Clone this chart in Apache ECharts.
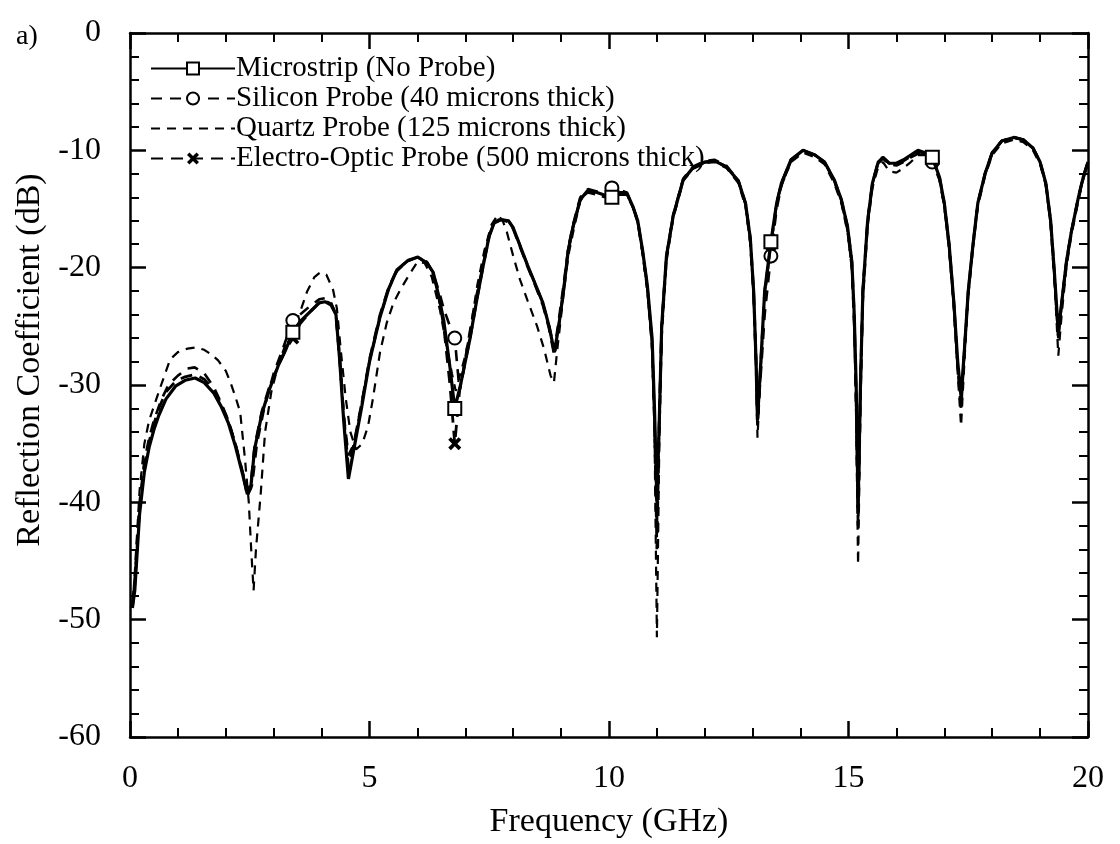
<!DOCTYPE html>
<html>
<head>
<meta charset="utf-8">
<script src="https://cdn.jsdelivr.net/npm/echarts@6/dist/echarts.min.js"></script>
<style>html,body{margin:0;padding:0;background:#fff;}#c{width:1120px;height:844px;}</style>
</head>
<body>
<div id="c"></div>
<script>
// ---- data (frequency GHz, reflection coefficient dB) ----
const seriesNames = ['Microstrip (No Probe)', 'Silicon Probe (40 microns thick)', 'Quartz Probe (125 microns thick)', 'Electro-Optic Probe (500 microns thick)'];
const markerFreqs = [3.40, 6.78, 10.06, 13.38, 16.75];
const xTicks = [0, 5, 10, 15, 20];
const yTicks = [-60, -50, -40, -30, -20, -10, 0];

const microstrip = [
[0.05,-49],[0.1,-47.5],[0.2,-41],[0.3,-37.4],[0.4,-35.3],[0.5,-33.8],[0.6,-32.6],[0.75,-31.2],[0.95,-30.1],[1.15,-29.6],
[1.36,-29.4],[1.55,-29.8],[1.75,-30.7],[1.9,-31.8],[2.05,-33.2],[2.2,-35.2],[2.35,-37.6],[2.45,-39.3],[2.52,-38.8],[2.6,-35.5],
[2.75,-32.5],[2.9,-30.5],[3.1,-28.3],[3.25,-27],[3.4,-25.5],[3.55,-24.6],[3.75,-23.8],[3.95,-23],[4.07,-22.9],[4.2,-23.2],
[4.3,-24],[4.38,-28],[4.46,-33],[4.56,-38],[4.65,-36],[4.84,-31.8],[5.0,-28],[5.22,-24.2],[5.4,-21.8],[5.57,-20.2],
[5.8,-19.4],[6.01,-19.1],[6.2,-19.6],[6.33,-20.4],[6.45,-22.5],[6.55,-24.5],[6.68,-28.5],[6.78,-32],[6.9,-30],[7.0,-28],
[7.1,-26],[7.25,-22.5],[7.37,-19.9],[7.5,-17.3],[7.6,-16.2],[7.75,-15.9],[7.9,-16],[8.0,-16.6],[8.15,-18.2],[8.3,-19.8],
[8.45,-21.3],[8.62,-23],[8.75,-25],[8.86,-27.2],[8.95,-25],[9.05,-22],[9.15,-18.5],[9.25,-16.5],[9.4,-14.2],[9.56,-13.4],
[9.75,-13.6],[9.9,-13.8],[10.06,-14],[10.2,-13.6],[10.37,-13.6],[10.5,-14.8],[10.6,-16],[10.7,-18.5],[10.8,-21.5],[10.9,-26],
[10.95,-32],[11.0,-40],[11.05,-33],[11.1,-25],[11.2,-19],[11.34,-15.6],[11.55,-12.5],[11.75,-11.5],[12.0,-11],[12.2,-10.9],
[12.45,-11.4],[12.7,-12.6],[12.85,-14.5],[12.95,-17.5],[13.02,-22],[13.07,-28],[13.1,-33],[13.17,-28],[13.25,-22],[13.38,-17.8],
[13.5,-14.5],[13.6,-12.8],[13.8,-10.8],[14.05,-10],[14.3,-10.4],[14.5,-11],[14.7,-12.5],[14.85,-14.2],[14.98,-16.5],[15.07,-19.5],
[15.12,-24],[15.16,-30],[15.2,-40.5],[15.25,-30],[15.3,-22],[15.4,-16],[15.5,-12.8],[15.62,-11],[15.72,-10.6],[15.85,-11.1],
[16.0,-11.1],[16.15,-10.8],[16.3,-10.4],[16.45,-10],[16.6,-10.2],[16.75,-10.6],[16.9,-12.3],[17.0,-14.5],[17.1,-18],[17.2,-23],
[17.28,-28],[17.35,-31],[17.42,-27],[17.5,-22],[17.6,-18],[17.7,-14.5],[17.85,-12],[18.0,-10.2],[18.2,-9.2],[18.45,-8.9],
[18.65,-9.1],[18.85,-9.8],[19.0,-11],[19.12,-12.8],[19.22,-16],[19.3,-20.5],[19.38,-25.5],[19.45,-23],[19.55,-19.5],[19.65,-17],
[19.8,-14],[19.9,-12.3],[20.0,-11]
];

const silicon = [
[0.05,-48.5],[0.1,-46.5],[0.2,-40],[0.3,-36.5],[0.4,-34.5],[0.5,-33],[0.65,-31.3],[0.8,-30],[1.0,-29.2],[1.2,-28.6],
[1.35,-28.5],[1.55,-29],[1.75,-30.2],[1.9,-31.5],[2.05,-33],[2.2,-35],[2.35,-37.5],[2.45,-39.5],[2.55,-38.5],[2.65,-35],
[2.8,-32],[3.0,-29],[3.2,-26.8],[3.4,-24.5],[3.55,-24],[3.75,-23.3],[3.95,-22.7],[4.07,-22.6],[4.2,-23],[4.3,-24],
[4.38,-28],[4.46,-32.5],[4.56,-36],[4.68,-35],[4.84,-31.5],[5.0,-28],[5.22,-24.2],[5.4,-21.8],[5.57,-20.3],[5.8,-19.4],
[6.01,-19.1],[6.2,-19.5],[6.33,-20.5],[6.45,-22],[6.55,-23.5],[6.68,-25],[6.78,-26],[6.88,-30.5],[6.95,-29],[7.05,-26.5],
[7.2,-23],[7.37,-19.8],[7.5,-17.2],[7.6,-16.1],[7.75,-15.8],[7.9,-16],[8.0,-16.6],[8.15,-18.2],[8.3,-19.8],[8.45,-21.3],
[8.62,-23],[8.75,-25],[8.86,-27],[8.95,-24.5],[9.05,-21.5],[9.15,-18.3],[9.25,-16.3],[9.4,-14],[9.56,-13.3],[9.75,-13.5],
[9.9,-13.6],[10.06,-13.2],[10.2,-13.3],[10.37,-13.6],[10.5,-14.8],[10.6,-16],[10.7,-18.6],[10.8,-21.8],[10.9,-26.5],[10.95,-33],
[11.0,-42],[11.05,-33],[11.1,-25],[11.2,-19],[11.34,-15.5],[11.55,-12.4],[11.75,-11.4],[12.0,-10.9],[12.2,-10.8],[12.45,-11.3],
[12.7,-12.6],[12.85,-14.6],[12.95,-17.8],[13.02,-22.5],[13.07,-28],[13.1,-33],[13.17,-29],[13.25,-24],[13.38,-19],[13.5,-15],
[13.6,-13],[13.8,-10.9],[14.05,-10],[14.3,-10.4],[14.5,-11],[14.7,-12.6],[14.85,-14.3],[14.98,-16.8],[15.07,-20],[15.12,-25],
[15.16,-31],[15.2,-41],[15.25,-30],[15.3,-22],[15.4,-16],[15.5,-12.8],[15.62,-11.1],[15.72,-10.7],[15.85,-11.2],[16.0,-11.3],
[16.15,-11],[16.3,-10.6],[16.45,-10.3],[16.6,-10.5],[16.75,-11],[16.9,-12.5],[17.0,-14.7],[17.1,-18.2],[17.2,-23.2],[17.28,-28.5],
[17.35,-31.5],[17.42,-27],[17.5,-22],[17.6,-18],[17.7,-14.5],[17.85,-12],[18.0,-10.2],[18.2,-9.2],[18.45,-8.9],[18.65,-9.1],
[18.85,-9.8],[19.0,-11],[19.12,-12.9],[19.22,-16.2],[19.3,-21],[19.38,-26],[19.45,-23],[19.55,-19.5],[19.65,-17],[19.8,-14],
[19.9,-12.3],[20.0,-11]
];

const quartz = [
[0.05,-49],[0.1,-46],[0.2,-39],[0.3,-35],[0.4,-33],[0.5,-31.8],[0.65,-30],[0.84,-27.8],[1.0,-27.2],[1.2,-26.9],
[1.38,-26.8],[1.55,-27],[1.7,-27.4],[1.84,-27.9],[2.0,-28.8],[2.1,-29.8],[2.2,-31],[2.3,-32.3],[2.4,-36.3],[2.48,-40],
[2.53,-44],[2.58,-47.5],[2.63,-44],[2.73,-39.2],[2.82,-34],[2.95,-30.6],[3.1,-28.2],[3.25,-26.5],[3.4,-25.2],[3.55,-23.8],
[3.7,-22],[3.85,-20.8],[3.97,-20.4],[4.1,-20.6],[4.24,-21.9],[4.32,-23.5],[4.4,-27],[4.5,-31],[4.6,-34],[4.72,-35.5],
[4.85,-35],[4.97,-33.5],[5.07,-31.2],[5.22,-27.2],[5.36,-24.7],[5.5,-23],[5.64,-21.9],[5.8,-20.8],[6.0,-19.5],[6.15,-19.6],
[6.3,-20.8],[6.47,-23.6],[6.6,-26.5],[6.72,-29],[6.8,-30.5],[6.9,-29],[7.0,-27.5],[7.1,-25.5],[7.25,-21.5],[7.4,-18.5],
[7.55,-16.3],[7.68,-15.5],[7.78,-16],[7.87,-17],[8.0,-19],[8.14,-21],[8.3,-22.8],[8.5,-25],[8.65,-27],[8.78,-29.2],
[8.85,-29.8],[8.92,-27],[9.04,-22.7],[9.15,-19],[9.25,-17],[9.4,-14.3],[9.56,-13.6],[9.75,-13.8],[9.9,-14],[10.06,-13.9],
[10.2,-13.8],[10.37,-13.8],[10.5,-14.9],[10.6,-16.2],[10.7,-18.8],[10.8,-22],[10.9,-27],[10.95,-34],[11.0,-51.5],[11.05,-35],
[11.1,-26],[11.2,-19.5],[11.34,-15.8],[11.55,-12.6],[11.75,-11.6],[12.0,-11.1],[12.2,-11],[12.45,-11.5],[12.7,-12.8],[12.85,-14.8],
[12.95,-18],[13.02,-22.5],[13.07,-28.5],[13.1,-34.5],[13.17,-28.5],[13.25,-22.5],[13.38,-18.2],[13.5,-14.8],[13.6,-13],[13.8,-11],
[14.05,-10.2],[14.3,-10.6],[14.5,-11.2],[14.7,-12.8],[14.85,-14.5],[14.98,-17],[15.07,-20],[15.12,-25],[15.16,-33],[15.2,-45.3],
[15.25,-32],[15.3,-23],[15.4,-16.5],[15.5,-13.2],[15.62,-11.4],[15.72,-11],[15.85,-11.8],[16.0,-11.9],[16.15,-11.5],[16.3,-11],
[16.45,-10.4],[16.6,-10.4],[16.75,-10.8],[16.9,-12.5],[17.0,-14.8],[17.1,-18.5],[17.2,-23.5],[17.28,-29],[17.35,-33.5],[17.42,-28],
[17.5,-22.5],[17.6,-18.3],[17.7,-14.8],[17.85,-12.2],[18.0,-10.4],[18.2,-9.4],[18.45,-9.1],[18.65,-9.3],[18.85,-10],[19.0,-11.2],
[19.12,-13],[19.22,-16.3],[19.3,-21],[19.38,-27.5],[19.45,-24],[19.55,-20],[19.65,-17.3],[19.8,-14.3],[19.9,-12.5],[20.0,-11.2]
];

const electroOptic = [
[0.05,-49],[0.1,-47],[0.2,-40.5],[0.3,-36.8],[0.4,-34.8],[0.5,-33.3],[0.6,-32],[0.75,-30.6],[0.95,-29.7],[1.15,-29.3],
[1.36,-29.1],[1.55,-29.5],[1.75,-30.4],[1.9,-31.6],[2.05,-33],[2.2,-35],[2.35,-37.4],[2.45,-39],[2.52,-38.5],[2.6,-35.3],
[2.75,-32.3],[2.9,-30.3],[3.1,-28.3],[3.25,-27],[3.4,-26],[3.55,-24.8],[3.75,-23.8],[3.95,-23],[4.07,-22.8],[4.2,-23.1],
[4.3,-24],[4.38,-27.8],[4.46,-32.5],[4.56,-37],[4.65,-35.5],[4.84,-31.5],[5.0,-27.8],[5.22,-24],[5.4,-21.7],[5.57,-20.2],
[5.8,-19.4],[6.01,-19.1],[6.2,-19.6],[6.33,-20.5],[6.45,-22.6],[6.55,-25],[6.68,-30],[6.78,-35],[6.88,-30.5],[7.0,-28],
[7.1,-26],[7.25,-22.5],[7.37,-19.9],[7.5,-17.3],[7.6,-16.2],[7.75,-15.9],[7.9,-16.1],[8.0,-16.7],[8.15,-18.3],[8.3,-19.9],
[8.45,-21.4],[8.62,-23.2],[8.75,-25.2],[8.86,-27.5],[8.95,-25],[9.05,-22],[9.15,-18.5],[9.25,-16.5],[9.4,-14.2],[9.56,-13.5],
[9.75,-13.7],[9.9,-13.9],[10.06,-14],[10.2,-13.7],[10.37,-13.7],[10.5,-14.8],[10.6,-16.1],[10.7,-18.6],[10.8,-21.6],[10.9,-26.5],
[10.95,-33],[11.0,-44],[11.05,-33],[11.1,-25],[11.2,-19],[11.34,-15.6],[11.55,-12.5],[11.75,-11.5],[12.0,-11],[12.2,-10.9],
[12.45,-11.4],[12.7,-12.6],[12.85,-14.5],[12.95,-17.5],[13.02,-22],[13.07,-28],[13.1,-33.5],[13.17,-28],[13.25,-22],[13.38,-18],
[13.5,-14.5],[13.6,-12.8],[13.8,-10.8],[14.05,-10],[14.3,-10.4],[14.5,-11],[14.7,-12.5],[14.85,-14.2],[14.98,-16.5],[15.07,-19.5],
[15.12,-24],[15.16,-31],[15.2,-42],[15.25,-30],[15.3,-22],[15.4,-16],[15.5,-12.8],[15.62,-11],[15.72,-10.6],[15.85,-11.1],
[16.0,-11.2],[16.15,-10.9],[16.3,-10.5],[16.45,-10.1],[16.6,-10.3],[16.75,-10.6],[16.9,-12.3],[17.0,-14.5],[17.1,-18],[17.2,-23],
[17.28,-28.5],[17.35,-32],[17.42,-27],[17.5,-22],[17.6,-18],[17.7,-14.5],[17.85,-12],[18.0,-10.2],[18.2,-9.2],[18.45,-8.9],
[18.65,-9.1],[18.85,-9.8],[19.0,-11],[19.12,-12.8],[19.22,-16],[19.3,-20.5],[19.38,-26],[19.45,-23],[19.55,-19.5],[19.65,-17],
[19.8,-14],[19.9,-12.3],[20.0,-11]
];

// ---- chart ----
const FONT = '"Liberation Serif", "DejaVu Serif", serif';
const crossPath = 'path://M0,2L2,0L5,3L8,0L10,2L7,5L10,8L8,10L5,7L2,10L0,8L3,5Z';
function markerSize(v) { return markerFreqs.indexOf(v[0]) >= 0 ? 13 : 0; }

const chart = echarts.init(document.getElementById('c'), null, {renderer: 'canvas'});
const tickLabel = {color: '#000', fontFamily: FONT, fontSize: 32};
const axisLineStyle = {show: true, onZero: false, lineStyle: {color: '#000', width: 2.5}};
const majorTick = {show: true, inside: true, length: 16, lineStyle: {color: '#000', width: 2.5}};
const minorTick = {show: true, splitNumber: 5, length: 9, lineStyle: {color: '#000', width: 2}};

chart.setOption({
  animation: false,
  backgroundColor: '#fff',
  title: {text: 'a)', left: 11, top: 18, textStyle: {fontFamily: FONT, fontSize: 28, fontWeight: 'normal', color: '#000'}},
  legend: {
    orient: 'vertical', left: 150, top: 54, padding: 0,
    itemWidth: 84, itemHeight: 15, itemGap: 1,
    textStyle: {fontFamily: FONT, fontSize: 29, color: '#000', padding: [0,0,0,-4]},
    data: [
      {name: seriesNames[0]},
      {name: seriesNames[1]},
      {name: seriesNames[2], itemStyle: {opacity: 0}},
      {name: seriesNames[3]}
    ]
  },
  grid: {left: 130, right: 32, top: 33, bottom: 106},
  xAxis: [
    {type: 'value', min: xTicks[0], max: xTicks[xTicks.length - 1], interval: 5, position: 'bottom',
     name: 'Frequency (GHz)', nameLocation: 'middle', nameGap: 68,
     nameTextStyle: {fontFamily: FONT, fontSize: 34, color: '#000'},
     axisLine: axisLineStyle, axisTick: majorTick, minorTick: minorTick,
     axisLabel: Object.assign({margin: 26}, tickLabel), splitLine: {show: false}},
    {type: 'value', min: xTicks[0], max: xTicks[xTicks.length - 1], interval: 5, position: 'top',
     axisLine: axisLineStyle, axisTick: majorTick, minorTick: minorTick,
     axisLabel: {show: false}, splitLine: {show: false}}
  ],
  yAxis: [
    {type: 'value', min: yTicks[0], max: yTicks[yTicks.length - 1], interval: 10, position: 'left',
     name: 'Reflection Coefficient (dB)', nameLocation: 'middle', nameGap: 77, nameRotate: 90,
     nameTextStyle: {fontFamily: FONT, fontSize: 34, color: '#000', padding: [0, 0, 0, 50]},
     axisLine: axisLineStyle, axisTick: majorTick, minorTick: minorTick,
     axisLabel: Object.assign({margin: 29}, tickLabel), splitLine: {show: false}},
    {type: 'value', min: yTicks[0], max: yTicks[yTicks.length - 1], interval: 10, position: 'right',
     axisLine: axisLineStyle, axisTick: majorTick, minorTick: minorTick,
     axisLabel: {show: false}, splitLine: {show: false}}
  ],
  series: [
    {name: seriesNames[2], type: 'line', data: quartz, symbol: 'circle', symbolSize: 0, showSymbol: false,
     lineStyle: {color: '#000', width: 2.2, type: [9, 7]}, itemStyle: {color: '#000'}, z: 1},
    {name: seriesNames[1], type: 'line', data: silicon, symbol: 'emptyCircle', symbolSize: markerSize, showAllSymbol: true,
     lineStyle: {color: '#000', width: 2.6, type: [11, 8]}, itemStyle: {color: '#000', borderWidth: 2}, z: 2},
    {name: seriesNames[3], type: 'line', data: electroOptic, symbol: crossPath, symbolSize: markerSize, showAllSymbol: true,
     lineStyle: {color: '#000', width: 2.8, type: [12, 8]}, itemStyle: {color: '#000'}, z: 3},
    {name: seriesNames[0], type: 'line', data: microstrip, symbol: 'emptyRect', symbolSize: markerSize, showAllSymbol: true,
     lineStyle: {color: '#000', width: 3.2}, itemStyle: {color: '#000', borderWidth: 2}, z: 4}
  ]
});
</script>
</body>
</html>
